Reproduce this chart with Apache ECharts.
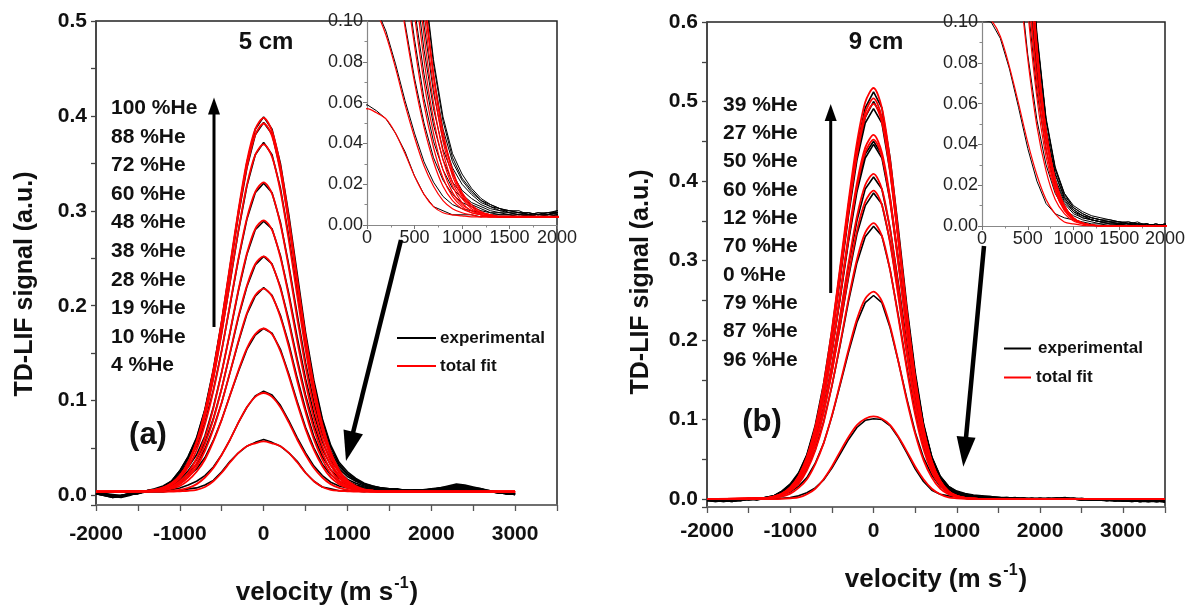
<!DOCTYPE html>
<html><head><meta charset="utf-8">
<script src="https://cdn.jsdelivr.net/npm/echarts@6/dist/echarts.min.js"></script>
<style>html,body{margin:0;padding:0;background:#fff}#c{width:1193px;height:610px}</style>
</head><body><div id="c"></div>
<script>
// ---------- x grids ----------
const XEA = [-2000,-1900,-1800,-1700,-1600,-1500,-1400,-1300,-1200,-1100,-1000,-900,-800,-700,-600,-500,-400,-300,-200,-100,0,100,200,300,400,500,600,700,800,900,1000,1100,1200,1300,1400,1500,1600,1700,1800,1900,2000,2100,2200,2300,2400,2500,2600,2700,2800,2900,3000];
const XFA = [-2000,-1400,-1300,-1200,-1100,-1000,-900,-800,-700,-600,-500,-400,-300,-200,-100,0,100,200,300,400,500,600,700,800,900,1000,1100,1200,1300,1400,3000];
const XEB = [-2000,-1900,-1800,-1700,-1600,-1500,-1400,-1300,-1200,-1100,-1000,-900,-800,-700,-600,-500,-400,-300,-200,-100,0,100,200,300,400,500,600,700,800,900,1000,1100,1200,1300,1400,1500,1600,1700,1800,1900,2000,2100,2200,2300,2400,2500,2600,2700,2800,2900,3000,3100,3200,3300,3400,3500];
const XFB = [-2000,-1300,-1200,-1100,-1000,-900,-800,-700,-600,-500,-400,-300,-200,-100,0,100,200,300,400,500,600,700,800,900,1000,1100,1200,1300,3500];

// ---------- labels ----------
const labelsA = ['100 %He','88 %He','72 %He','60 %He','48 %He','38 %He','28 %He','19 %He','10 %He','4 %He'];
const labelsB = ['39 %He','27 %He','50 %He','60 %He','12 %He','70 %He','0 %He','79 %He','87 %He','96 %He'];
const xTicksMain = [-2000,-1000,0,1000,2000,3000];

// ---------- panel (a) 5 cm : experimental ----------
const expA100 = [0.002,0.000,-0.002,-0.001,0.001,0.003,0.005,0.007,0.010,0.015,0.026,0.041,0.061,0.091,0.133,0.184,0.242,0.300,0.351,0.386,0.399,0.386,0.350,0.296,0.234,0.172,0.121,0.081,0.053,0.035,0.025,0.018,0.013,0.010,0.008,0.007,0.006,0.006,0.005,0.006,0.007,0.008,0.010,0.012,0.011,0.009,0.007,0.005,0.004,0.002,0.001];
const expA88 = [0.003,0.001,-0.001,-0.002,0.000,0.003,0.005,0.006,0.009,0.015,0.026,0.041,0.060,0.090,0.131,0.182,0.238,0.296,0.345,0.380,0.393,0.381,0.344,0.290,0.229,0.168,0.118,0.079,0.051,0.033,0.023,0.017,0.012,0.010,0.008,0.007,0.007,0.005,0.006,0.006,0.006,0.008,0.009,0.011,0.010,0.008,0.006,0.005,0.003,0.003,0.002];
const expA72 = [0.002,0.000,-0.002,0.000,0.001,0.003,0.004,0.006,0.009,0.014,0.025,0.039,0.058,0.085,0.124,0.172,0.225,0.279,0.326,0.359,0.372,0.359,0.324,0.273,0.215,0.158,0.110,0.073,0.047,0.031,0.022,0.016,0.012,0.009,0.007,0.007,0.006,0.006,0.005,0.005,0.007,0.007,0.009,0.010,0.010,0.008,0.007,0.004,0.004,0.002,0.001];
const expA60 = [0.003,0.001,-0.001,-0.001,0.001,0.002,0.005,0.006,0.008,0.013,0.023,0.036,0.052,0.077,0.111,0.153,0.201,0.249,0.291,0.319,0.329,0.319,0.288,0.243,0.191,0.140,0.098,0.065,0.042,0.028,0.020,0.015,0.011,0.009,0.008,0.006,0.006,0.005,0.005,0.006,0.006,0.008,0.008,0.010,0.009,0.008,0.006,0.005,0.003,0.002,0.002];
const expA48 = [0.002,0.000,-0.001,0.000,0.002,0.002,0.005,0.006,0.008,0.011,0.020,0.030,0.043,0.063,0.093,0.130,0.172,0.216,0.254,0.280,0.289,0.281,0.253,0.213,0.167,0.123,0.086,0.057,0.037,0.025,0.017,0.013,0.010,0.008,0.007,0.006,0.005,0.005,0.006,0.005,0.006,0.007,0.008,0.009,0.009,0.007,0.006,0.004,0.003,0.003,0.001];
const expA38 = [0.003,0.001,0.000,-0.001,0.001,0.003,0.004,0.005,0.007,0.010,0.017,0.026,0.038,0.056,0.081,0.113,0.150,0.188,0.220,0.243,0.252,0.244,0.220,0.185,0.144,0.106,0.074,0.049,0.032,0.021,0.015,0.011,0.009,0.007,0.006,0.006,0.005,0.006,0.005,0.005,0.006,0.006,0.008,0.009,0.008,0.007,0.005,0.005,0.003,0.002,0.002];
const expA28 = [0.002,0.001,-0.001,0.000,0.001,0.002,0.004,0.005,0.006,0.009,0.015,0.023,0.033,0.049,0.071,0.098,0.130,0.162,0.191,0.210,0.219,0.211,0.190,0.160,0.124,0.091,0.062,0.041,0.027,0.018,0.013,0.010,0.008,0.006,0.006,0.005,0.005,0.005,0.004,0.005,0.006,0.006,0.007,0.008,0.008,0.006,0.005,0.004,0.004,0.002,0.002];
const expA19 = [0.003,0.002,0.000,-0.001,0.001,0.003,0.004,0.005,0.006,0.008,0.013,0.020,0.028,0.040,0.058,0.080,0.106,0.131,0.154,0.169,0.176,0.171,0.154,0.128,0.099,0.072,0.050,0.033,0.022,0.015,0.011,0.009,0.007,0.006,0.005,0.005,0.004,0.005,0.004,0.005,0.005,0.006,0.006,0.008,0.007,0.006,0.005,0.004,0.003,0.003,0.001];
const expA10 = [0.002,0.001,0.000,0.000,0.002,0.003,0.004,0.004,0.004,0.006,0.008,0.011,0.015,0.021,0.030,0.043,0.059,0.077,0.093,0.105,0.110,0.106,0.095,0.079,0.061,0.045,0.031,0.021,0.014,0.010,0.008,0.007,0.006,0.005,0.005,0.005,0.004,0.005,0.004,0.004,0.005,0.005,0.006,0.007,0.006,0.005,0.005,0.004,0.003,0.002,0.002];
const expA4 = [0.003,0.002,0.001,0.000,0.002,0.003,0.004,0.004,0.004,0.005,0.005,0.007,0.008,0.011,0.016,0.025,0.036,0.045,0.052,0.056,0.059,0.056,0.052,0.045,0.036,0.024,0.015,0.009,0.007,0.005,0.005,0.005,0.004,0.005,0.004,0.004,0.004,0.005,0.004,0.004,0.005,0.005,0.005,0.006,0.005,0.005,0.004,0.004,0.003,0.003,0.002];

// ---------- panel (a) 5 cm : total fit ----------
const fitA100 = [0.004,0.0049,0.006,0.0084,0.013,0.021,0.035,0.057,0.089,0.132,0.184,0.243,0.301,0.352,0.386,0.398,0.384,0.347,0.292,0.229,0.168,0.116,0.075,0.046,0.027,0.016,0.010,0.0066,0.005,0.0044,0.004];
const fitA88 = [0.004,0.0049,0.006,0.0083,0.013,0.021,0.035,0.056,0.088,0.130,0.182,0.239,0.297,0.346,0.380,0.392,0.379,0.341,0.286,0.224,0.164,0.113,0.073,0.044,0.026,0.015,0.009,0.006,0.005,0.004,0.004];
const fitA72 = [0.004,0.0048,0.0059,0.008,0.012,0.020,0.033,0.054,0.083,0.123,0.172,0.226,0.280,0.327,0.359,0.370,0.357,0.321,0.269,0.211,0.154,0.105,0.068,0.041,0.024,0.014,0.009,0.006,0.005,0.004,0.004];
const fitA60 = [0.004,0.0047,0.0057,0.0076,0.011,0.018,0.030,0.048,0.075,0.110,0.153,0.202,0.250,0.292,0.320,0.330,0.318,0.286,0.240,0.187,0.136,0.093,0.060,0.036,0.021,0.013,0.008,0.006,0.005,0.004,0.004];
const fitA48 = [0.004,0.0045,0.0051,0.0065,0.0093,0.015,0.024,0.039,0.061,0.092,0.130,0.173,0.217,0.255,0.281,0.290,0.280,0.251,0.210,0.163,0.119,0.081,0.052,0.032,0.019,0.011,0.007,0.0055,0.0046,0.004,0.004];
const fitA38 = [0.004,0.0044,0.005,0.0062,0.0086,0.013,0.021,0.034,0.054,0.080,0.113,0.151,0.189,0.221,0.244,0.252,0.243,0.218,0.182,0.141,0.103,0.070,0.045,0.027,0.016,0.010,0.007,0.005,0.0045,0.004,0.004];
const fitA28 = [0.004,0.0043,0.0048,0.0059,0.008,0.012,0.019,0.030,0.047,0.070,0.098,0.130,0.163,0.192,0.211,0.218,0.210,0.188,0.157,0.121,0.088,0.059,0.038,0.023,0.014,0.009,0.006,0.005,0.004,0.004,0.004];
const fitA19 = [0.004,0.0043,0.0047,0.0055,0.0072,0.010,0.016,0.025,0.038,0.057,0.080,0.106,0.132,0.155,0.170,0.176,0.170,0.152,0.126,0.097,0.070,0.048,0.031,0.019,0.012,0.008,0.006,0.005,0.004,0.004,0.004];
const fitA10 = [0.004,0.004,0.004,0.004,0.005,0.006,0.008,0.012,0.019,0.029,0.043,0.059,0.077,0.093,0.104,0.108,0.104,0.093,0.077,0.059,0.043,0.029,0.019,0.012,0.008,0.006,0.005,0.004,0.004,0.004,0.004];
const fitA4 = [0.004,0.004,0.004,0.004,0.004,0.0045,0.005,0.006,0.009,0.015,0.024,0.035,0.045,0.052,0.055,0.057,0.055,0.052,0.045,0.035,0.024,0.015,0.009,0.006,0.005,0.0045,0.004,0.004,0.004,0.004,0.004];

// ---------- panel (b) 9 cm : experimental ----------
const expB39 = [-0.001,-0.003,-0.002,-0.003,-0.001,0.001,-0.001,0.001,0.004, 0.010,0.019,0.033,0.056,0.093,0.145,0.212,0.290,0.371,0.443,0.492,0.512,0.492,0.428,0.338,0.243,0.160,0.095,0.053,0.029,0.016,0.010,0.007,0.005, 0.004,0.003,0.002,0.002,0.001,0.001,0.000,0.001,0.000,0.001,0.002,0.000,0.001,-0.001,0.000,-0.001,-0.002,-0.001,-0.003,-0.002,-0.003,-0.002,-0.003];
const expB27 = [0.000,-0.002,-0.003,-0.001,-0.002,0.000,0.001,0.002,0.004, 0.010,0.018,0.032,0.055,0.090,0.141,0.206,0.282,0.362,0.432,0.480,0.500,0.481,0.418,0.331,0.238,0.156,0.093,0.052,0.028,0.016,0.009,0.006,0.004, 0.003,0.003,0.002,0.001,0.002,0.000,0.001,0.000,0.001,0.000,0.001,0.001,0.000,0.000,-0.001,0.000,-0.002,-0.002,-0.001,-0.003,-0.002,-0.003,-0.002];
const expB50 = [-0.002,-0.002,-0.001,-0.002,0.000,-0.001,0.000,0.002,0.003, 0.009,0.018,0.031,0.054,0.089,0.139,0.203,0.278,0.357,0.426,0.473,0.491,0.473,0.411,0.326,0.235,0.155,0.093,0.052,0.028,0.015,0.009,0.006,0.004, 0.003,0.002,0.002,0.001,0.001,0.001,0.000,0.000,0.001,0.001,0.000,0.001,0.000,-0.001,-0.001,-0.002,-0.001,-0.002,-0.002,-0.003,-0.003,-0.002,-0.004];
const expB60 = [-0.001,-0.002,-0.003,-0.002,-0.001,0.000,0.000,0.002,0.004, 0.009,0.017,0.030,0.050,0.082,0.128,0.187,0.256,0.328,0.391,0.434,0.450,0.433,0.378,0.300,0.217,0.142,0.086,0.048,0.026,0.014,0.008,0.005,0.004, 0.003,0.002,0.001,0.002,0.001,0.000,0.001,0.000,0.000,0.001,0.001,0.000,-0.001,0.000,-0.001,-0.001,-0.002,-0.002,-0.003,-0.002,-0.002,-0.003,-0.003];
const expB12 = [0.000,-0.001,-0.002,-0.003,-0.001,0.000,-0.001,0.002,0.003, 0.009,0.016,0.029,0.049,0.081,0.127,0.185,0.253,0.324,0.386,0.429,0.446,0.429,0.374,0.297,0.215,0.141,0.085,0.047,0.025,0.014,0.008,0.005,0.003, 0.002,0.002,0.002,0.001,0.000,0.001,0.000,0.001,0.000,0.000,0.001,0.000,0.000,-0.001,0.000,-0.002,-0.001,-0.002,-0.002,-0.003,-0.002,-0.003,-0.002];
const expB70 = [-0.001,-0.002,-0.001,-0.002,-0.002,0.000,0.000,0.001,0.003, 0.008,0.015,0.027,0.045,0.074,0.115,0.168,0.230,0.294,0.350,0.390,0.405,0.390,0.340,0.270,0.195,0.127,0.077,0.043,0.023,0.013,0.007,0.005,0.003, 0.002,0.002,0.001,0.001,0.001,0.000,0.000,0.001,0.000,0.001,0.000,0.000,0.000,-0.001,-0.001,-0.001,-0.002,-0.001,-0.002,-0.002,-0.003,-0.002,-0.003];
const expB0 = [-0.002,-0.003,-0.002,-0.001,-0.001,0.000,0.001,0.001,0.003, 0.008,0.014,0.026,0.043,0.070,0.109,0.160,0.218,0.279,0.333,0.369,0.385,0.371,0.323,0.257,0.185,0.122,0.074,0.042,0.022,0.012,0.007,0.004,0.003, 0.002,0.001,0.001,0.001,0.000,0.001,0.000,0.000,0.000,0.001,0.000,0.001,-0.001,0.000,-0.001,-0.001,-0.001,-0.002,-0.002,-0.002,-0.003,-0.003,-0.002];
const expB79 = [-0.001,-0.001,-0.002,-0.002,-0.001,0.000,0.000,0.001,0.003, 0.007,0.013,0.022,0.038,0.062,0.097,0.142,0.194,0.249,0.297,0.330,0.343,0.331,0.288,0.229,0.166,0.109,0.066,0.037,0.020,0.011,0.006,0.004,0.003, 0.002,0.001,0.001,0.000,0.001,0.000,0.000,0.000,0.001,0.000,0.000,0.000,-0.001,-0.001,0.000,-0.001,-0.002,-0.001,-0.002,-0.003,-0.002,-0.002,-0.003];
const expB87 = [0.000,-0.002,-0.002,-0.001,0.000,-0.001,0.000,0.000,0.002, 0.005,0.009,0.016,0.027,0.045,0.070,0.104,0.144,0.185,0.222,0.247,0.256,0.247,0.215,0.172,0.126,0.084,0.052,0.030,0.016,0.008,0.005,0.003,0.002, 0.001,0.001,0.001,0.000,0.000,0.001,0.000,0.000,0.000,0.000,0.001,0.000,0.000,-0.001,-0.001,0.000,-0.001,-0.002,-0.001,-0.002,-0.002,-0.003,-0.002];
const expB96 = [-0.001,-0.001,-0.002,-0.001,0.000,0.000,0.000,0.000,0.000, 0.001,0.002,0.004,0.008,0.014,0.024,0.039,0.057,0.075,0.090,0.099,0.101,0.100,0.092,0.077,0.058,0.038,0.022,0.011,0.006,0.004,0.003,0.002,0.001, 0.001,0.000,0.001,0.000,0.000,0.000,0.001,0.000,0.000,0.000,0.000,0.000,-0.001,0.000,-0.001,-0.001,-0.001,-0.002,-0.001,-0.002,-0.002,-0.002,-0.003];

// ---------- panel (b) 9 cm : total fit ----------
const fitB39 = [0,0.0013,0.0031,0.007,0.015,0.029,0.053,0.091,0.144,0.213,0.293,0.375,0.448,0.499,0.517,0.492,0.425,0.333,0.237,0.153,0.089,0.047,0.023,0.010,0.004,0.0014,0.0005,0,0];
const fitB27 = [0,0.0012,0.003,0.0068,0.014,0.028,0.052,0.088,0.140,0.207,0.285,0.366,0.437,0.486,0.504,0.480,0.415,0.326,0.232,0.150,0.088,0.047,0.023,0.010,0.004,0.0014,0.0005,0,0];
const fitB50 = [0,0.0012,0.003,0.0067,0.014,0.028,0.051,0.087,0.138,0.204,0.281,0.361,0.431,0.480,0.497,0.474,0.410,0.322,0.230,0.149,0.088,0.047,0.023,0.010,0.004,0.0014,0.0005,0,0];
const fitB60 = [0,0.0011,0.0027,0.0062,0.013,0.026,0.047,0.080,0.127,0.188,0.259,0.333,0.397,0.442,0.458,0.436,0.378,0.297,0.212,0.137,0.081,0.043,0.021,0.009,0.0037,0.0013,0.0004,0,0];
const fitB12 = [0,0.0011,0.0027,0.0061,0.013,0.025,0.046,0.079,0.126,0.186,0.256,0.328,0.392,0.436,0.452,0.431,0.373,0.294,0.210,0.136,0.081,0.043,0.021,0.009,0.0038,0.0014,0.0004,0,0];
const fitB70 = [0,0.001,0.0024,0.0055,0.012,0.023,0.042,0.072,0.114,0.168,0.232,0.297,0.355,0.395,0.409,0.390,0.338,0.266,0.190,0.123,0.073,0.039,0.019,0.0084,0.0034,0.0012,0.0004,0,0];
const fitB0 = [0,0.001,0.0023,0.0053,0.011,0.022,0.040,0.068,0.108,0.160,0.220,0.282,0.337,0.374,0.388,0.370,0.321,0.253,0.181,0.118,0.070,0.038,0.018,0.0082,0.0033,0.0012,0.0004,0,0];
const fitB79 = [0,0.0009,0.0021,0.0047,0.0099,0.019,0.036,0.061,0.096,0.143,0.196,0.252,0.301,0.335,0.347,0.331,0.287,0.227,0.163,0.106,0.063,0.034,0.017,0.0075,0.0031,0.0011,0.0004,0,0];
const fitB87 = [0,0.0005,0.0014,0.0031,0.0068,0.014,0.025,0.044,0.070,0.105,0.146,0.188,0.226,0.252,0.261,0.249,0.217,0.172,0.124,0.082,0.049,0.027,0.013,0.0061,0.0025,0.001,0.0003,0,0];
const fitB96 = [0,0,0,0.0003,0.001,0.002,0.006,0.013,0.025,0.041,0.060,0.078,0.093,0.101,0.104,0.101,0.093,0.078,0.060,0.041,0.025,0.013,0.006,0.002,0.001,0.0003,0,0,0];

const expAList = [expA100,expA88,expA72,expA60,expA48,expA38,expA28,expA19,expA10,expA4];
const fitAList = [fitA100,fitA88,fitA72,fitA60,fitA48,fitA38,fitA28,fitA19,fitA10,fitA4];
const expBList = [expB39,expB27,expB50,expB60,expB12,expB70,expB0,expB79,expB87,expB96];
const fitBList = [fitB39,fitB27,fitB50,fitB60,fitB12,fitB70,fitB0,fitB79,fitB87,fitB96];

const FONT = '"Liberation Sans", Arial, Helvetica, sans-serif';
const chart = echarts.init(document.getElementById('c'), null, {renderer: 'canvas'});

function mk(xs, ys, ax, color, w, smooth, z) {
  return {
    type: 'line', xAxisIndex: ax, yAxisIndex: ax,
    data: xs.map((x, i) => [x, ys[i]]),
    symbol: 'none', showSymbol: false, smooth: smooth,
    lineStyle: {color: color, width: w}, silent: true, z: z,
    animation: false, clip: true
  };
}

const series = [];
[[0, 1.6, 1.8], [1, 1.0, 1.2]].forEach(([ax, wb, wr]) => {
  expAList.forEach(ys => series.push(mk(XEA, ys, ax, '#000', wb, false, 2)));
  fitAList.forEach(ys => series.push(mk(XFA, ys, ax, '#ff0000', wr, 0.3, 3)));
});
[[2, 1.6, 1.8], [3, 1.0, 1.2]].forEach(([ax, wb, wr]) => {
  expBList.forEach(ys => series.push(mk(XEB, ys, ax, '#000', wb, false, 2)));
  fitBList.forEach(ys => series.push(mk(XFB, ys, ax, '#ff0000', wr, 0.3, 3)));
});

const mainXLabel = v => (xTicksMain.indexOf(v) >= 0 ? String(v) : '');
const mainYLabel = v => { const r = Math.round(v * 1000); if (r < 0 || r % 100 !== 0) return ''; return (r / 1000).toFixed(1); };

function mainX(grid, margin) {
  return {
    gridIndex: grid, type: 'value', min: -2000, max: 3500, interval: 500,
    axisLine: {show: true, onZero: false, lineStyle: {color: '#777', width: 1.5}},
    axisTick: {show: true, inside: false, length: 6, lineStyle: {color: '#555', width: 1.3}},
    axisLabel: {formatter: mainXLabel, fontFamily: FONT, fontWeight: 'bold', fontSize: 21, color: '#111', margin: margin},
    splitLine: {show: false}
  };
}
function mainY(grid, max, split) {
  return {
    gridIndex: grid, type: 'value', min: -0.01, max: max, splitNumber: split,
    axisLine: {show: true, onZero: false, lineStyle: {color: '#444', width: 1.5}},
    axisTick: {show: true, inside: false, length: 5, lineStyle: {color: '#444', width: 1.3}},
    axisLabel: {formatter: mainYLabel, fontFamily: FONT, fontWeight: 'bold', fontSize: 21, color: '#111', margin: 9},
    splitLine: {show: false}
  };
}
function insetX(grid) {
  return {
    gridIndex: grid, type: 'value', min: 0, max: 2000, interval: 500,
    axisLine: {show: true, onZero: false, lineStyle: {color: '#888', width: 1.2}},
    axisTick: {show: true, length: 4, lineStyle: {color: '#777'}},
    minorTick: {show: true, splitNumber: 2, length: 2.5, lineStyle: {color: '#888'}},
    axisLabel: {formatter: v => String(v), fontFamily: FONT, fontSize: 18, color: '#222', margin: 4},
    splitLine: {show: false}
  };
}
function insetY(grid) {
  return {
    gridIndex: grid, type: 'value', min: 0, max: 0.1, interval: 0.02,
    axisLine: {show: true, onZero: false, lineStyle: {color: '#888', width: 1.2}},
    axisTick: {show: true, length: 4, lineStyle: {color: '#777'}},
    minorTick: {show: true, splitNumber: 2, length: 2.5, lineStyle: {color: '#888'}},
    axisLabel: {formatter: v => v.toFixed(2), fontFamily: FONT, fontSize: 18, color: '#222', margin: 4},
    splitLine: {show: false}
  };
}

// ---------- annotations ----------
const ctx = document.createElement('canvas').getContext('2d');
function tw(t, size) { ctx.font = 'bold ' + size + 'px ' + FONT; return ctx.measureText(t).width; }
function txt(x, y, text, size, align, extra) {
  return Object.assign({type: 'text', x: x, y: y, silent: true, z: 20,
    style: {text: text, fontFamily: FONT, fontWeight: 'bold', fontSize: size, fill: '#111',
            align: align || 'left', verticalAlign: 'middle', textAlign: align || 'left', textVerticalAlign: 'middle'}}, extra || {});
}
function xTitle(cx, cy) {
  const a = 'velocity (m s', b = '-1', c = ')';
  const w1 = tw(a, 26), w2 = tw(b, 16), w3 = tw(c, 26);
  const x0 = cx - (w1 + w2 + w3) / 2;
  return [txt(x0, cy, a, 26), txt(x0 + w1 + 1, cy - 9, b, 16), txt(x0 + w1 + w2 + 2, cy, c, 26)];
}
function arrow(x1, y1, x2, y2, w, hl, hw) {
  const dx = x2 - x1, dy = y2 - y1, L = Math.hypot(dx, dy), ux = dx / L, uy = dy / L;
  const bx = x2 - ux * hl, by = y2 - uy * hl, px = -uy, py = ux;
  return [
    {type: 'line', silent: true, z: 20, shape: {x1: x1, y1: y1, x2: bx + ux * 2, y2: by + uy * 2}, style: {stroke: '#000', lineWidth: w}},
    {type: 'polygon', silent: true, z: 20, shape: {points: [[x2, y2], [bx + px * hw, by + py * hw], [bx - px * hw, by - py * hw]]}, style: {fill: '#000'}}
  ];
}
function legendLine(x1, x2, y, color) {
  return {type: 'line', silent: true, z: 20, shape: {x1: x1, y1: y, x2: x2, y2: y}, style: {stroke: color, lineWidth: 2}};
}

const els = [];
els.push(txt(266, 42, '5 cm', 24, 'center'));
els.push(txt(876, 42, '9 cm', 24, 'center'));
labelsA.forEach((t, i) => els.push(txt(111, 108.3 + i * 28.6, t, 21)));
labelsB.forEach((t, i) => els.push(txt(723, 105 + i * 28.33, t, 21)));
els.push(txt(148, 435, '(a)', 31, 'center'));
els.push(txt(762, 422, '(b)', 31, 'center'));
els.push(legendLine(397, 436, 338, '#000'), txt(440, 338, 'experimental', 17));
els.push(legendLine(397, 436, 366, '#ff0000'), txt(440, 366, 'total fit', 17));
els.push(legendLine(1004, 1031, 348.5, '#000'), txt(1038, 348.5, 'experimental', 17));
els.push(legendLine(1004, 1031, 377.5, '#ff0000'), txt(1036, 377.5, 'total fit', 17));
els.push(txt(25, 284, 'TD-LIF signal (a.u.)', 25, 'center', {rotation: Math.PI / 2}));
els.push(txt(641, 282, 'TD-LIF signal (a.u.)', 25, 'center', {rotation: Math.PI / 2}));
xTitle(326, 593).forEach(e => els.push(e));
xTitle(935, 580).forEach(e => els.push(e));
arrow(214, 327, 214, 97.5, 3, 17, 6).forEach(e => els.push(e));
arrow(830.7, 293, 830.7, 104, 3, 17, 6).forEach(e => els.push(e));
arrow(401, 240, 346, 461, 4.5, 30, 10).forEach(e => els.push(e));
arrow(984, 246, 963.3, 466.7, 4.5, 30, 9.5).forEach(e => els.push(e));

chart.setOption({
  animation: false,
  backgroundColor: '#fff',
  grid: [
    {left: 96, top: 21, width: 461, height: 484, show: true, borderColor: '#222', borderWidth: 1.5, containLabel: false},
    {left: 367, top: 21, width: 190, height: 204, show: false, containLabel: false},
    {left: 707, top: 22, width: 458, height: 485, show: true, borderColor: '#222', borderWidth: 1.5, containLabel: false},
    {left: 982, top: 22, width: 183, height: 204, show: false, containLabel: false}
  ],
  xAxis: [mainX(0, 19), insetX(1), mainX(2, 14), insetX(3)],
  yAxis: [mainY(0, 0.5, 10), insetY(1), mainY(2, 0.6, 12), insetY(3)],
  series: series,
  graphic: {elements: els}
});
</script>
</body></html>
